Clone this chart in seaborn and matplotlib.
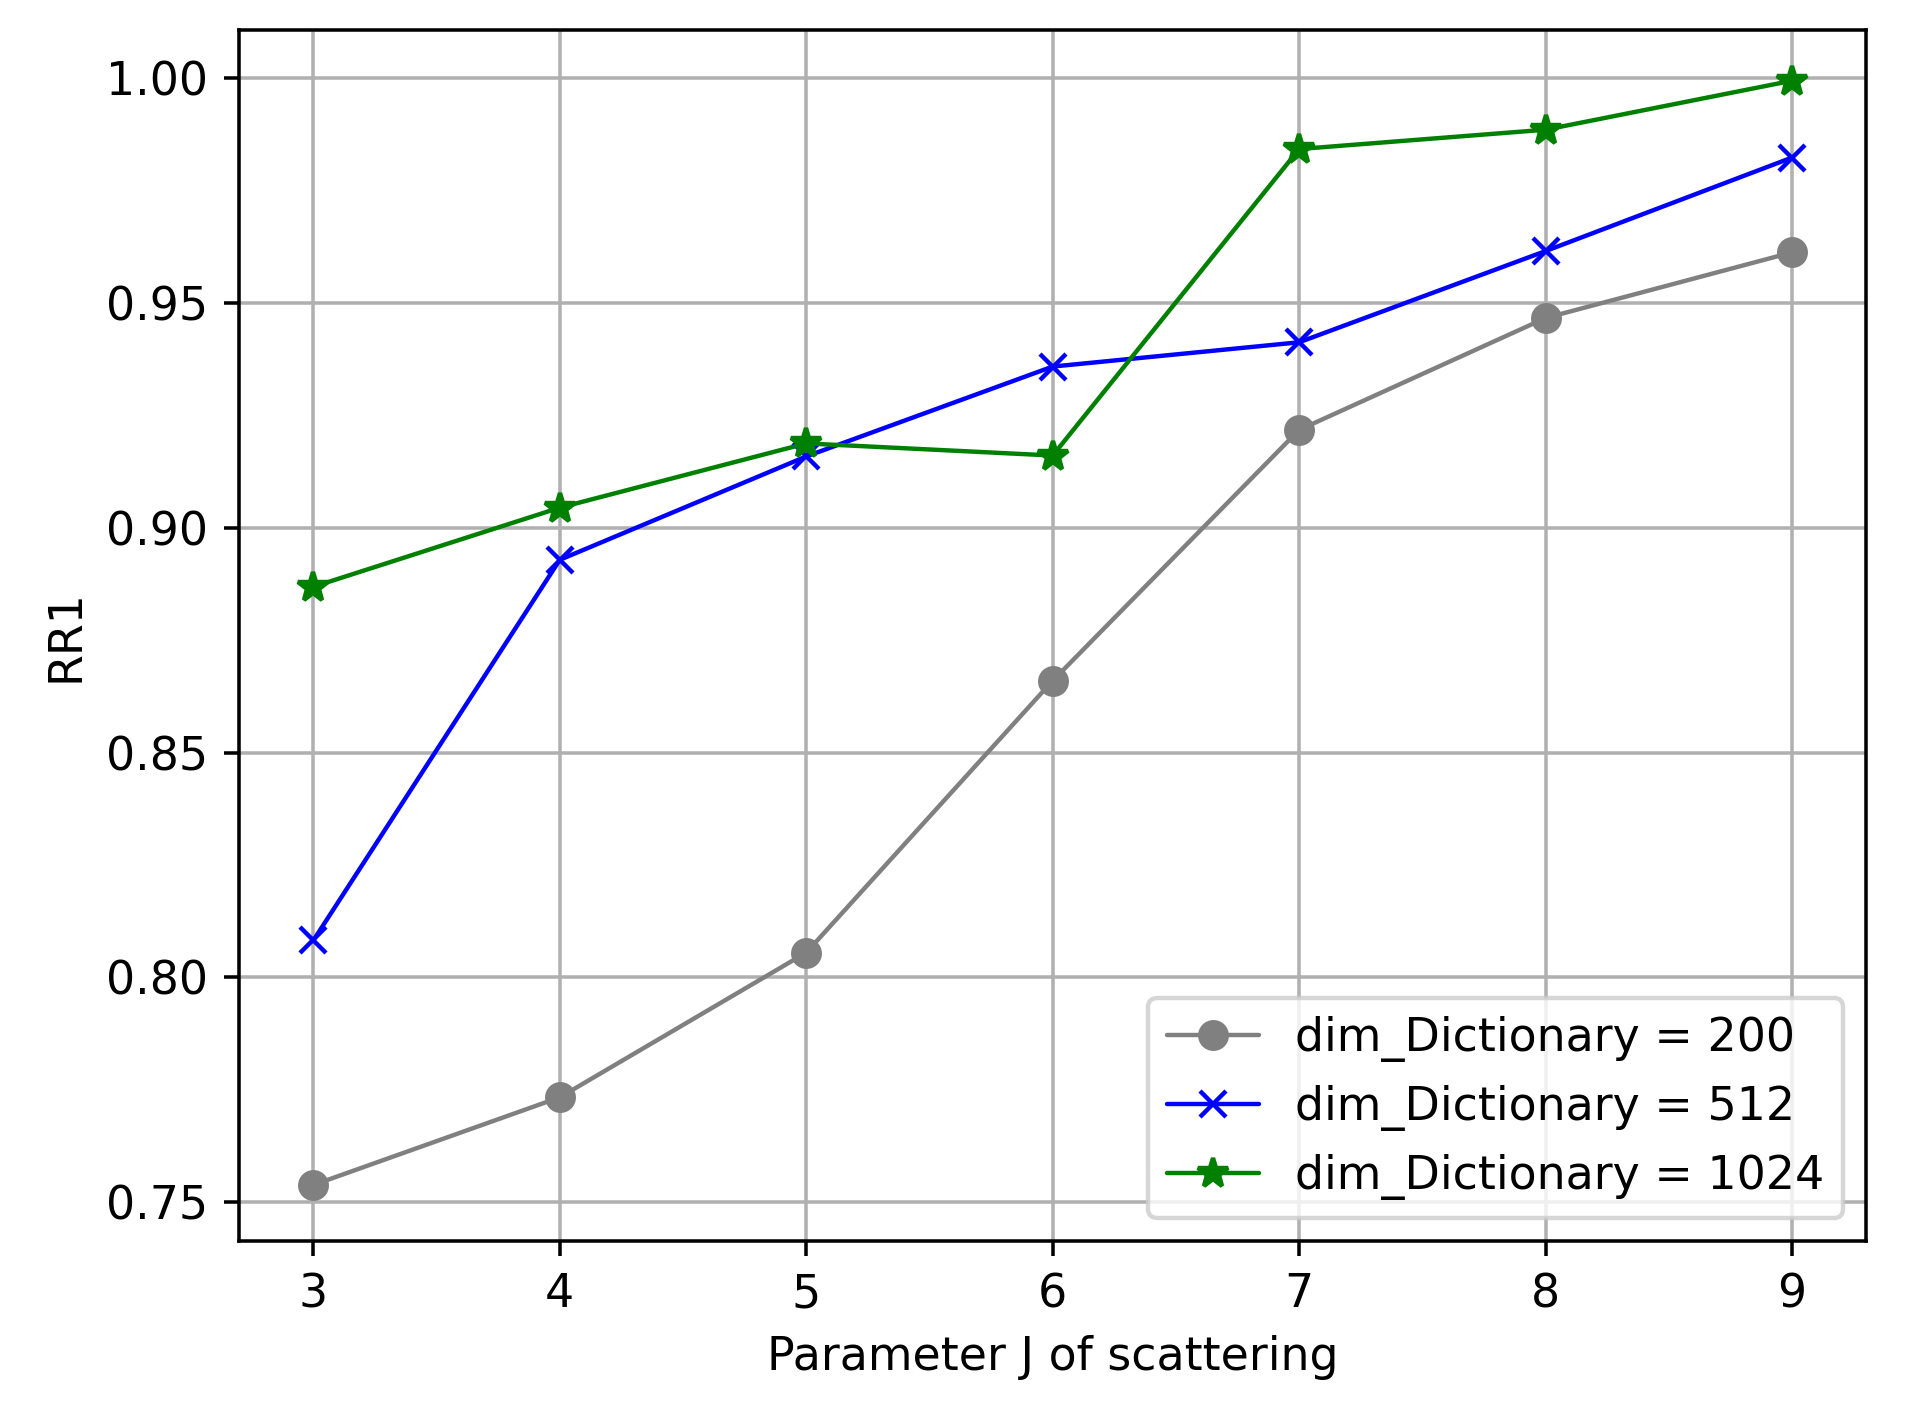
import numpy as np
import pandas as pd
import matplotlib
matplotlib.use("Agg")
import matplotlib.pyplot as plt
import seaborn as sns

# data
J_values = [3, 4, 5, 6, 7, 8, 9]
rr1_200 = [0.7538, 0.7733, 0.8055, 0.8660, 0.9218, 0.9467, 0.9613]
rr1_512 = [0.8082, 0.8929, 0.9159, 0.9359, 0.9413, 0.9616, 0.9824]
rr1_1024 = [0.8869, 0.9045, 0.9188, 0.9161, 0.9843, 0.9886, 0.9995]
series_labels = ["dim_Dictionary = 200", "dim_Dictionary = 512", "dim_Dictionary = 1024"]
series_colors = ["gray", "blue", "green"]
series_markers = ["o", "x", "*"]

sns.set_style("ticks")
plt.rcParams['font.family'] = ['DejaVu Sans']
plt.rcParams['text.color'] = 'black'
plt.rcParams['axes.labelcolor'] = 'black'
plt.rcParams['xtick.color'] = 'black'
plt.rcParams['ytick.color'] = 'black'

DPI = 318
FS = 10.4
fig = plt.figure(figsize=(1906 / DPI, 1412 / DPI), dpi=DPI)
ax = fig.add_axes([0.1256, 0.121, 0.979 - 0.1256, 0.9788 - 0.121])

for vals, lab, col, mk in zip([rr1_200, rr1_512, rr1_1024], series_labels, series_colors, series_markers):
    df = pd.DataFrame({"J": J_values, "RR1": vals})
    sns.lineplot(data=df, x="J", y="RR1", ax=ax, color=col, marker=mk,
                 markersize=7 if mk == "*" else 6, linewidth=1.0,
                 markeredgecolor=col, markeredgewidth=1.0, label=lab)

ax.set_xlim(2.7, 9.3)
ax.set_ylim(0.7413, 1.0108)
ax.set_xticks(J_values)
ax.set_yticks([0.75, 0.80, 0.85, 0.90, 0.95, 1.00])
ax.set_yticklabels(["0.75", "0.80", "0.85", "0.90", "0.95", "1.00"])
ax.grid(True, color="#b0b0b0", linewidth=0.8)
ax.set_axisbelow(True)
for s in ax.spines.values():
    s.set_visible(True)
    s.set_color("black")
    s.set_linewidth(0.8)
ax.tick_params(axis="both", labelsize=FS, color="black", width=0.8, length=3.5)
ax.set_xlabel("Parameter J of scattering", fontsize=FS)
ax.set_ylabel("RR1", fontsize=FS)
leg = ax.legend(loc="lower right", fontsize=FS, fancybox=True, framealpha=0.8)
leg.get_frame().set_edgecolor("#cccccc")

fig.savefig("out.png", dpi=DPI)
